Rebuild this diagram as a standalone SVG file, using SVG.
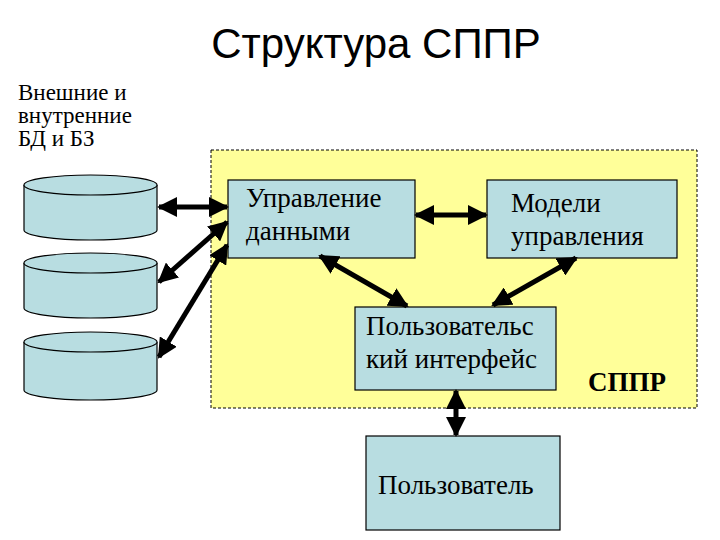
<svg xmlns="http://www.w3.org/2000/svg" width="720" height="540" viewBox="0 0 720 540">
<defs>
<marker id="a" viewBox="0 0 10 10" refX="9" refY="5" markerWidth="4" markerHeight="4" orient="auto-start-reverse"><path d="M0,0L10,5L0,10z" fill="#000"/></marker>
<style>
.cyl{fill:#b8dde1;stroke:#000;stroke-width:1.2}
.box{fill:#b8dde1;stroke:#000;stroke-width:1.2}
.t{font-family:"Liberation Serif","DejaVu Serif",serif;font-size:27px;fill:#000}
.s{font-family:"Liberation Serif","DejaVu Serif",serif;font-size:23px;fill:#000}
.c{stroke:#000;stroke-width:5;fill:none;marker-start:url(#a);marker-end:url(#a)}
</style>
</defs>
<rect width="720" height="540" fill="#fff"/>
<text x="376" y="58" text-anchor="middle" style="font-family:'Liberation Sans',sans-serif;font-size:42px">Структура СППР</text>
<text class="s" x="18" y="100">Внешние и</text>
<text class="s" x="18" y="123">внутренние</text>
<text class="s" x="18" y="146">БД и БЗ</text>
<rect x="211" y="150" width="486" height="258" fill="#ffff99" stroke="#000" stroke-dasharray="3,2"/>
<g id="db1"><path class="cyl" d="M24,185V230A66.5,10 0 0 0 157,230V185"/><ellipse class="cyl" cx="90.5" cy="185" rx="66.5" ry="10"/></g>
<g id="db2"><path class="cyl" d="M24,263V308A66.5,10 0 0 0 157,308V263"/><ellipse class="cyl" cx="90.5" cy="263" rx="66.5" ry="10"/></g>
<g id="db3"><path class="cyl" d="M24,342V390A66.5,10 0 0 0 157,390V342"/><ellipse class="cyl" cx="90.5" cy="342" rx="66.5" ry="10"/></g>
<g id="data"><rect class="box" x="228" y="180" width="187" height="78"/><text class="t" x="246" y="207">Управление</text><text class="t" x="246" y="240">данными</text></g>
<g id="models"><rect class="box" x="487" y="180" width="190" height="78"/><text class="t" x="511" y="212">Модели</text><text class="t" x="511" y="245">управления</text></g>
<g id="ui"><rect class="box" x="355" y="307" width="201" height="83"/><text class="t" x="366" y="335">Пользовательс</text><text class="t" x="366" y="368">кий интерфейс</text></g>
<g id="user"><rect class="box" x="366" y="436" width="194" height="94"/><text class="t" x="378" y="494">Пользователь</text></g>
<text x="588" y="391" style="font-family:'Liberation Serif','DejaVu Serif',serif;font-size:27px;font-weight:bold">СППР</text>
<g id="connectors">
<line class="c" x1="159" y1="207" x2="227" y2="207"/>
<line class="c" x1="159" y1="282" x2="227" y2="222"/>
<line class="c" x1="159" y1="357" x2="227" y2="245"/>
<line class="c" x1="416" y1="215" x2="486" y2="215"/>
<line class="c" x1="320" y1="256" x2="407" y2="306"/>
<line class="c" x1="576" y1="258" x2="493" y2="305"/>
<line class="c" x1="456" y1="391" x2="456" y2="435"/>
</g>
</svg>
